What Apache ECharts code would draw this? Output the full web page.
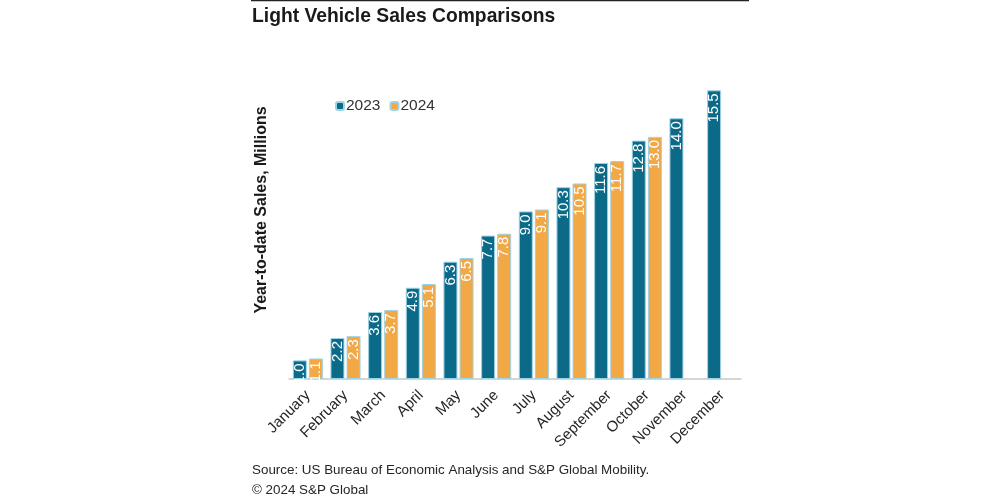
<!DOCTYPE html>
<html><head><meta charset="utf-8">
<script src="https://cdn.jsdelivr.net/npm/echarts@6/dist/echarts.min.js"></script>
<style>html,body{margin:0;padding:0;background:#fff}#c{width:1000px;height:500px}</style>
</head><body><div id="c"></div>
<script>
const months = ['January','February','March','April','May','June','July','August','September','October','November','December'];
const sales2023 = [1.0,2.2,3.6,4.9,6.3,7.7,9.0,10.3,11.6,12.8,14.0,15.5];
const sales2024 = [1.1,2.3,3.7,5.1,6.5,7.8,9.1,10.5,11.7,13.0,null,null];
const seriesNames = ['2023','2024'];

const chart = echarts.init(document.getElementById('c'));
const font = 'Arial, "Liberation Sans", sans-serif';
const lbl = {
  show: true, position: 'insideTop', rotate: 90, align: 'right', verticalAlign: 'middle',
  distance: 3, color: '#fff', fontSize: 15, fontFamily: font,
  formatter: p => p.value == null ? '' : Number(p.value).toFixed(1)
};
chart.setOption({
  animation: false,
  textStyle: {fontFamily: font},
  title: {text: 'Light Vehicle Sales Comparisons', left: 247, top: 2,
    textStyle: {fontSize: 19.3, fontWeight: 'bold', color: '#1a1a1a', fontFamily: font}},
  legend: {left: 330, top: 93, itemWidth: 8, itemHeight: 8, itemGap: 9,
    textStyle: {fontSize: 15.5, color: '#333', fontFamily: font, padding: [0,0,0,-3]},
    data: seriesNames},
  grid: {left: 289, right: 259, top: 81, bottom: 121},
  xAxis: {type: 'category', data: months,
    axisLine: {lineStyle: {color: '#c8c8c8', width: 1.5}},
    axisTick: {show: false},
    axisLabel: {rotate: 45, fontSize: 15, color: '#262626', fontFamily: font, margin: 14, interval: 0}},
  yAxis: {type: 'value', min: 0, max: 16, show: true,
    axisLine: {show: false}, axisTick: {show: false}, axisLabel: {show: false}, splitLine: {show: false}},
  series: [
    {name: seriesNames[0], type: 'bar', data: sales2023, barWidth: 14, barGap: '15%',
     itemStyle: {color: '#0c6a89', borderColor: '#9fd3e6', borderWidth: 1}, label: lbl},
    {name: seriesNames[1], type: 'bar', data: sales2024, barWidth: 14,
     itemStyle: {color: '#f2a845', borderColor: '#9fd3e6', borderWidth: 1}, label: lbl}
  ],
  graphic: [
    {type: 'line', shape: {x1: 251, y1: 0.5, x2: 749, y2: 0.5}, style: {stroke: '#222', lineWidth: 1.5}},
    {type: 'text', x: 262, y: 210, rotation: Math.PI / 2,
     style: {text: 'Year-to-date Sales, Millions', align: 'center', verticalAlign: 'middle',
       fill: '#1a1a1a', font: 'bold 16px Arial, "Liberation Sans", sans-serif'}},
    {type: 'text', left: 252, top: 464, style: {text: 'Source: US Bureau of Economic Analysis and S&P Global Mobility.', fill: '#262626', font: '13.4px Arial, "Liberation Sans", sans-serif'}},
    {type: 'text', left: 252, top: 484, style: {text: '© 2024 S&P Global', fill: '#262626', font: '13.4px Arial, "Liberation Sans", sans-serif'}}
  ]
});
</script></body></html>
